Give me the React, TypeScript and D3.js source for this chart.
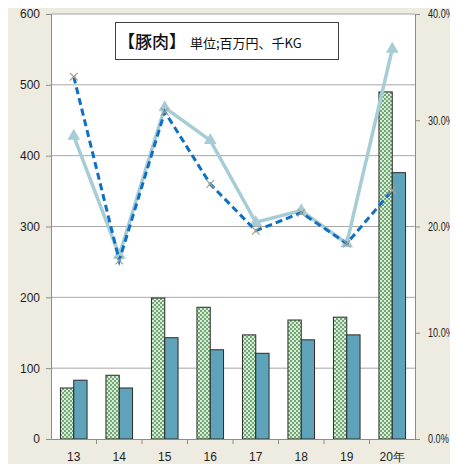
import React, { useEffect, useRef } from "react";
import * as d3 from "d3";

// 年度
const years = ["13", "14", "15", "16", "17", "18", "19", "20年"];
// 金額・数量 (百万円, 千KG)
const amountValues = [72, 90, 199, 186, 147, 168, 172, 490];
const volumeValues = [83, 72, 143, 126, 121, 140, 147, 376];
// 比率 (%)
const shareSolid = [28.5, 17.3, 31.2, 28.1, 20.4, 21.5, 18.4, 36.7];
const shareDashed = [34.1, 16.8, 30.8, 24.0, 19.6, 21.3, 18.4, 23.4];
const leftTicks = [0, 100, 200, 300, 400, 500, 600];
const rightTicks = [0, 10, 20, 30, 40];

const W = 458;
const H = 472;

const App = () => {
  const ref = useRef<SVGSVGElement>(null);

  useEffect(() => {
    const svg = d3.select(ref.current);
    svg.selectAll("*").remove();

    const margin = { top: 14, right: 43, bottom: 33, left: 51 };
    const x0 = margin.left;
    const x1 = W - margin.right;
    const y0 = H - margin.bottom;
    const y1 = margin.top;
    const font = "'Liberation Sans', Arial, sans-serif";

    svg.append("rect").attr("width", W).attr("height", H).attr("fill", "#EEEBE0");

    const defs = svg.append("defs");
    const pat = defs
      .append("pattern")
      .attr("id", "dots")
      .attr("width", 4)
      .attr("height", 4)
      .attr("patternUnits", "userSpaceOnUse");
    pat.append("rect").attr("width", 4).attr("height", 4).attr("fill", "#6FA874");
    pat.append("path").attr("d", "M0,0h2v2h-2z M2,2h2v2h-2z").attr("fill", "#D9ECD6");

    const x = d3.scaleBand().domain(years).range([x0, x1]);
    const yL = d3.scaleLinear().domain([0, 600]).range([y0, y1]);
    const yR = d3.scaleLinear().domain([0, 40]).range([y0, y1]);

    svg
      .append("rect")
      .attr("x", x0)
      .attr("y", y1)
      .attr("width", x1 - x0)
      .attr("height", y0 - y1)
      .attr("fill", "#fff");

    // gridlines
    svg
      .append("g")
      .selectAll("line")
      .data(leftTicks.slice(1))
      .join("line")
      .attr("x1", x0)
      .attr("x2", x1)
      .attr("y1", (d) => yL(d))
      .attr("y2", (d) => yL(d))
      .attr("stroke", "#A6A6A6")
      .attr("stroke-width", 1);

    // bars
    const bw = 13.3;
    const g = svg.append("g");
    g.selectAll(".a")
      .data(years)
      .join("rect")
      .attr("x", (d) => x(d)! + x.bandwidth() / 2 - bw)
      .attr("y", (d, i) => yL(amountValues[i]))
      .attr("width", bw)
      .attr("height", (d, i) => y0 - yL(amountValues[i]))
      .attr("fill", "url(#dots)")
      .attr("stroke", "#2B2B2B")
      .attr("stroke-width", 1);
    g.selectAll(".b")
      .data(years)
      .join("rect")
      .attr("x", (d) => x(d)! + x.bandwidth() / 2)
      .attr("y", (d, i) => yL(volumeValues[i]))
      .attr("width", bw)
      .attr("height", (d, i) => y0 - yL(volumeValues[i]))
      .attr("fill", "#5EA3B9")
      .attr("stroke", "#2B2B2B")
      .attr("stroke-width", 1);

    // axes
    const axL = svg
      .append("g")
      .attr("transform", `translate(${x0},0)`)
      .call(d3.axisLeft(yL).tickValues(leftTicks).tickSize(5).tickPadding(6));
    const axR = svg
      .append("g")
      .attr("transform", `translate(${x1},0)`)
      .call(
        d3
          .axisRight(yR)
          .tickValues(rightTicks)
          .tickSize(5)
          .tickPadding(8)
          .tickFormat((d) => `${(+d).toFixed(1)}%`)
      );
    const axB = svg
      .append("g")
      .attr("transform", `translate(0,${y0})`)
      .call(d3.axisBottom(x).tickSize(0).tickPadding(13));
    // category separators on bottom axis
    svg
      .append("g")
      .selectAll("line")
      .data(years.slice(1))
      .join("line")
      .attr("x1", (d) => x(d)!)
      .attr("x2", (d) => x(d)!)
      .attr("y1", y0)
      .attr("y2", y0 + 5)
      .attr("stroke", "#8C8C8C");
    [axL, axR, axB].forEach((a) => {
      a.select(".domain").attr("stroke", "#8C8C8C");
      a.selectAll(".tick line").attr("stroke", "#8C8C8C");
      a.selectAll("text")
        .attr("fill", "#1E1E1E")
        .style("font-family", font)
        .style("font-size", "12px");
    });
    // right labels are narrow in the source so they fit the edge
    const sx = 0.76;
    axR.selectAll("text")
      .attr("x", 13 / sx)
      .attr("transform", `scale(${sx},1)`);

    // lines
    const cx = (i: number) => x(years[i])! + x.bandwidth() / 2;
    const line = d3
      .line<number>()
      .x((d, i) => cx(i))
      .y((d) => yR(d));

    svg
      .append("path")
      .datum(shareSolid)
      .attr("d", line)
      .attr("fill", "none")
      .attr("stroke", "#A6CDD5")
      .attr("stroke-width", 3.5);
    svg
      .append("g")
      .selectAll("path")
      .data(shareSolid)
      .join("path")
      .attr("d", d3.symbol(d3.symbolTriangle, 70))
      .attr("transform", (d, i) => `translate(${cx(i)},${yR(d)})`)
      .attr("fill", "#A6CDD5");

    svg
      .append("path")
      .datum(shareDashed)
      .attr("d", line)
      .attr("fill", "none")
      .attr("stroke", "#0E6FC6")
      .attr("stroke-width", 3)
      .attr("stroke-dasharray", "7,4");
    svg
      .append("g")
      .selectAll("path")
      .data(shareDashed)
      .join("path")
      .attr("d", d3.symbol(d3.symbolX, 40))
      .attr("transform", (d, i) => `translate(${cx(i)},${yR(d)})`)
      .attr("fill", "none")
      .attr("stroke", "#A89F8A")
      .attr("stroke-width", 1.2);

    // title box
    svg
      .append("rect")
      .attr("x", 115.5)
      .attr("y", 22.5)
      .attr("width", 223)
      .attr("height", 37)
      .attr("fill", "#fff")
      .attr("stroke", "#404040")
      .attr("stroke-width", 1);
    const t = svg
      .append("text")
      .attr("x", 118)
      .attr("y", 48)
      .attr("fill", "#111")
      .style("font-family", "'Noto Sans CJK JP', sans-serif");
    t.append("tspan").style("font-size", "17px").style("font-weight", 500).text("【豚肉】");
    t.append("tspan")
      .attr("x", 190)
      .style("font-size", "13px")
      .text("単位;百万円、千KG");
  }, []);

  return <svg ref={ref} width={W} height={H} style={{ display: "block", margin: -8 }} />;
};

export default App;
